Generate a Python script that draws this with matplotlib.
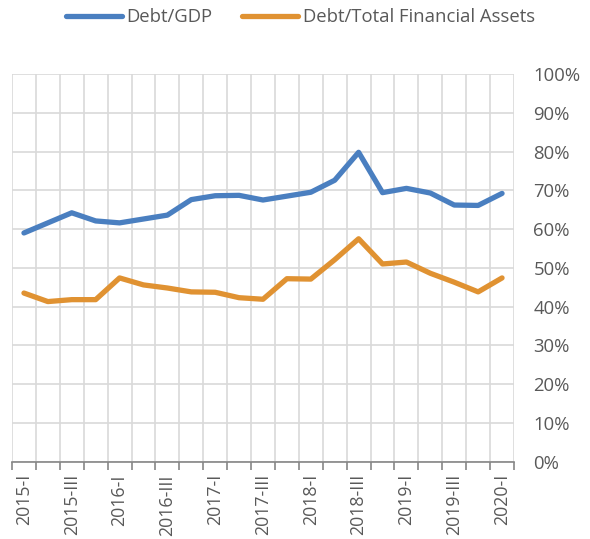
import numpy as np
import matplotlib.pyplot as plt
from matplotlib.ticker import FixedLocator, PercentFormatter

# quarters 2015-I .. 2020-I
years = [2015, 2016, 2017, 2018, 2019]
romans = ["I", "II", "III", "IV"]
quarters = [f"{y}-{r}" for y in years for r in romans] + ["2020-I"]

debt_gdp = [59.0, 61.6, 64.2, 62.1, 61.6, 62.6, 63.6, 67.6, 68.6, 68.7, 67.5, 68.5,
            69.5, 72.6, 79.8, 69.4, 70.5, 69.3, 66.2, 66.1, 69.2]
debt_tfa = [43.5, 41.3, 41.8, 41.8, 47.4, 45.6, 44.8, 43.8, 43.7, 42.3, 41.9, 47.2,
            47.1, 52.1, 57.5, 51.0, 51.5, 48.6, 46.3, 43.8, 47.4]

blue = "#4a7fc0"
orange = "#e09232"
grey_txt = "#595959"

plt.rcParams["font.family"] = ["Open Sans", "DejaVu Sans"]

fig = plt.figure(figsize=(5.9, 5.39), dpi=100)
ax = fig.add_axes([12 / 590, 1 - 461.7 / 539, 502 / 590, 387.7 / 539])

x = np.arange(len(quarters))
ax.plot(x, debt_gdp, color=blue, lw=3.8, solid_capstyle="round", solid_joinstyle="round", label="Debt/GDP")
ax.plot(x, debt_tfa, color=orange, lw=3.8, solid_capstyle="round", solid_joinstyle="round",
        label="Debt/Total Financial Assets")

ax.set_xlim(-0.5, len(quarters) - 0.5)
ax.set_ylim(0, 100)

# labels every other quarter, ticks/grid at category boundaries
ax.set_xticks(x[::2])
ax.set_xticklabels(quarters[::2], rotation=90, fontsize=12.8, color=grey_txt)
ax.xaxis.set_minor_locator(FixedLocator(np.arange(-0.5, len(quarters), 1.0)))
ax.tick_params(axis="x", which="major", length=0, pad=9)
ax.tick_params(axis="x", which="minor", length=6, width=1.2, color="#868686")
ax.grid(axis="x", which="minor", color="#d9d9d9", lw=1.2)

ax.yaxis.tick_right()
ax.set_yticks(np.arange(0, 101, 10))
ax.yaxis.set_major_formatter(PercentFormatter(decimals=0))
ax.tick_params(axis="y", length=0, pad=14, labelsize=13.3, labelcolor=grey_txt)
ax.grid(axis="y", color="#d9d9d9", lw=1.2)
ax.set_axisbelow(True)

for s in ["top", "left", "right"]:
    ax.spines[s].set_visible(False)
ax.spines["bottom"].set_color("#868686")
ax.spines["bottom"].set_linewidth(1.2)

leg = fig.legend(loc="center", bbox_to_anchor=(300.5 / 590, 1 - 17 / 539), ncol=2, frameon=False,
                 fontsize=13.3, handlelength=3.0, handletextpad=0.27, columnspacing=1.6)
for t in leg.get_texts():
    t.set_color(grey_txt)

fig.savefig("out.png", dpi=100)
